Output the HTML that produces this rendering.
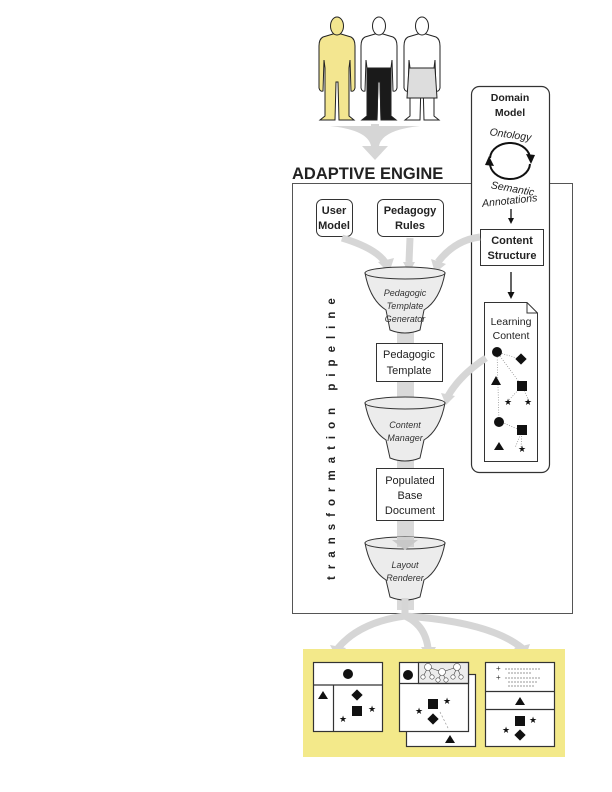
<!DOCTYPE html>
<html><head><meta charset="utf-8"><style>
html,body{margin:0;padding:0;background:#fff}
svg{display:block}
text{font-family:"Liberation Sans",sans-serif}
</style></head><body>
<svg width="612" height="792" viewBox="0 0 612 792" xmlns="http://www.w3.org/2000/svg">
<defs>
<g id="person">
  <path d="M-4,34 L-14,37 Q-18,39 -18,46 L-18,88 Q-17,92 -14,91 L-13,60 L-12,68 L-12,116 L-17,120 L-2,120 L-1,82 L1,82 L2,120 L17,120 L12,116 L12,68 L13,60 L14,91 Q17,92 18,88 L18,46 Q18,39 14,37 L4,34 Z" stroke="#222" stroke-width="1"/>
  <ellipse cx="0" cy="26" rx="6.5" ry="9" stroke="#222" stroke-width="1"/>
</g>
</defs>

<use href="#person" x="337" y="0" fill="#f3e690"/>
<g>
  <use href="#person" x="379" y="0" fill="#fff"/>
  <path d="M367,68 L391,68 L391,116 L396,120 L381,120 L380,82 L378,82 L377,120 L362,120 L367,116 Z" fill="#1a1a1a" stroke="#222"/>
</g>
<g>
  <use href="#person" x="422" y="0" fill="#fff"/>
  <path d="M409,68 L435,68 L437,98 L407,98 Z" fill="#ddd" stroke="#222"/>
</g>

<!-- top gray arrow -->
<path d="M330,126 Q368,130 371,146 L362,146 L375,160 L388,146 L379,146 Q382,130 420,126 L379,126 L379,124 L371,124 L371,126 Z" fill="#d6d6d6"/>

<text x="292" y="179" font-size="16.5" font-weight="bold" fill="#222">ADAPTIVE ENGINE</text>

<rect x="292.5" y="183.5" width="280" height="430" fill="none" stroke="#555" stroke-width="1"/>

<rect x="397" y="280" width="17" height="330" fill="#d9d9d9"/>

<!-- domain model box -->
<rect x="471.5" y="86.5" width="78" height="386" rx="8" fill="#fff" stroke="#333" stroke-width="1.2"/>
<text x="510" y="101" font-size="10.5" font-weight="bold" text-anchor="middle" fill="#222">Domain</text>
<text x="510" y="116" font-size="10.5" font-weight="bold" text-anchor="middle" fill="#222">Model</text>
<text x="510" y="138" font-size="10.5" font-style="italic" text-anchor="middle" fill="#222" transform="rotate(8 510 138)">Ontology</text>
<path d="M490,158 A20,16 0 0 1 530,160" fill="none" stroke="#111" stroke-width="2"/>
<path d="M526,154 L531,164 L535,155 Z" fill="#111"/>
<path d="M530,164 A20,16 0 0 1 490,162" fill="none" stroke="#111" stroke-width="2"/>
<path d="M494,166 L489,156 L485,165 Z" fill="#111"/>
<text x="512" y="192" font-size="10.5" font-style="italic" text-anchor="middle" fill="#222" transform="rotate(10 512 192)">Semantic</text>
<text x="510" y="204" font-size="10.5" font-style="italic" text-anchor="middle" fill="#222" transform="rotate(-6 510 204)">Annotations</text>
<line x1="511" y1="209" x2="511" y2="219" stroke="#111" stroke-width="1.3"/>
<path d="M508,218 L511,224 L514,218 Z" fill="#111"/>
<rect x="480.5" y="229.5" width="63" height="36" fill="#fff" stroke="#333"/>
<text x="512" y="244" font-size="11" font-weight="bold" text-anchor="middle" fill="#222">Content</text>
<text x="512" y="259" font-size="11" font-weight="bold" text-anchor="middle" fill="#222">Structure</text>
<line x1="511" y1="272" x2="511" y2="293" stroke="#111" stroke-width="1.3"/>
<path d="M507.5,292 L511,299 L514.5,292 Z" fill="#111"/>
<path d="M484.5,302.5 L527,302.5 L537.5,313 L537.5,461.5 L484.5,461.5 Z" fill="#fff" stroke="#333"/>
<path d="M527,302.5 L527,313 L537.5,313" fill="none" stroke="#333"/>
<text x="511" y="325" font-size="10.5" text-anchor="middle" fill="#222">Learning</text>
<text x="511" y="339" font-size="10.5" text-anchor="middle" fill="#222">Content</text>
<g stroke="#888" stroke-width="0.7" stroke-dasharray="1,1.5" fill="none">
<path d="M497,352 L523,360 M497,352 L522,386 L508,401 M522,386 L529,401 M497,352 L499,421 L522,431 L515,448 M522,431 L521,448"/>
</g>
<g fill="#111">
<circle cx="497" cy="352" r="5"/>
<rect x="517" y="355" width="8" height="8" transform="rotate(45 521 359)"/>
<path d="M491,385 L496,376 L501,385 Z"/>
<rect x="517" y="381" width="10" height="10"/>
<text x="508" y="405" font-size="9" text-anchor="middle">★</text>
<text x="528" y="405" font-size="9" text-anchor="middle">★</text>
<circle cx="499" cy="422" r="5"/>
<rect x="517" y="425" width="10" height="10"/>
<path d="M494,450 L499,442 L504,450 Z"/>
<text x="522" y="452" font-size="9" text-anchor="middle">★</text>
</g>

<rect x="316.5" y="199.5" width="36" height="37" rx="6" fill="#fff" stroke="#333"/>
<text x="334" y="214" font-size="11" font-weight="bold" text-anchor="middle" fill="#222">User</text>
<text x="334" y="229" font-size="11" font-weight="bold" text-anchor="middle" fill="#222">Model</text>
<rect x="377.5" y="199.5" width="66" height="37" rx="6" fill="#fff" stroke="#333"/>
<text x="410" y="214" font-size="11" font-weight="bold" text-anchor="middle" fill="#222">Pedagogy</text>
<text x="410" y="229" font-size="11" font-weight="bold" text-anchor="middle" fill="#222">Rules</text>

<g fill="none" stroke="#d6d6d6" stroke-width="7">
<path d="M342,238 Q375,248 385,262"/>
<path d="M410,238 L409,262"/>
<path d="M480,237 Q455,240 438,262"/>
<path d="M486,358 Q460,375 448,396"/>
</g>
<g fill="#d6d6d6">
<path d="M378,262 L389,273 L394,258 Z"/>
<path d="M403,262 L409,273 L415,262 Z"/>
<path d="M431,259 L435,273 L446,264 Z"/>
<path d="M441,393 L446,405 L455,396 Z"/>
</g>

<g stroke="#333" stroke-width="1" fill="#ececec">
<path d="M365,273 Q370,300 386,310 L390,330 Q405,336 420,330 L424,310 Q440,300 445,273 Z"/>
<ellipse cx="405" cy="273" rx="40" ry="6"/>
<path d="M365,403 Q370,430 386,440 L390,458 Q405,464 420,458 L424,440 Q440,430 445,403 Z"/>
<ellipse cx="405" cy="403" rx="40" ry="6"/>
<path d="M365,543 Q370,570 386,580 L390,597 Q405,603 420,597 L424,580 Q440,570 445,543 Z"/>
<ellipse cx="405" cy="543" rx="40" ry="6"/>
</g>
<rect x="397" y="537" width="17" height="10" fill="#d0d0d0"/>
<path d="M392,540 L405,550 L418,540 Z" fill="#c8c8c8"/>
<g font-size="9" font-style="italic" text-anchor="middle" fill="#333">
<text x="405" y="296">Pedagogic</text>
<text x="405" y="309">Template</text>
<text x="405" y="322">Generator</text>
<text x="405" y="428">Content</text>
<text x="405" y="441">Manager</text>
<text x="405" y="568">Layout</text>
<text x="405" y="581">Renderer</text>
</g>

<rect x="376.5" y="343.5" width="66" height="38" fill="#fff" stroke="#333"/>
<text x="409" y="358" font-size="11" text-anchor="middle" fill="#222">Pedagogic</text>
<text x="409" y="374" font-size="11" text-anchor="middle" fill="#222">Template</text>
<rect x="376.5" y="468.5" width="67" height="52" fill="#fff" stroke="#333"/>
<text x="410" y="484" font-size="11" text-anchor="middle" fill="#222">Populated</text>
<text x="410" y="499" font-size="11" text-anchor="middle" fill="#222">Base</text>
<text x="410" y="514" font-size="11" text-anchor="middle" fill="#222">Document</text>

<text x="0" y="0" font-size="11.5" font-weight="bold" fill="#222" letter-spacing="7" transform="translate(335,580) rotate(-90)">transformation  pipeline</text>

<g fill="none" stroke="#d6d6d6" stroke-width="7">
<path d="M405,598 L405,616 Q360,622 338,648"/>
<path d="M405,616 Q425,625 428,648"/>
<path d="M405,616 Q490,622 522,648"/>
</g>
<g fill="#d6d6d6">
<path d="M330,645 L337,658 L346,648 Z"/>
<path d="M421,647 L429,659 L436,647 Z"/>
<path d="M514,648 L525,658 L530,644 Z"/>
</g>

<rect x="303" y="649" width="262" height="108" fill="#f3e98a"/>
<g stroke="#333" stroke-width="1.2" fill="#fff">
<rect x="313.5" y="662.5" width="69" height="69"/>
<line x1="313.5" y1="685" x2="382.5" y2="685"/>
<line x1="333.5" y1="685" x2="333.5" y2="731"/>
</g>
<g fill="#111">
<circle cx="348" cy="674" r="5"/>
<path d="M318,699 L323,691 L328,699 Z"/>
<rect x="353" y="691" width="8" height="8" transform="rotate(45 357 695)"/>
<rect x="352" y="706" width="10" height="10"/>
<text x="372" y="712" font-size="9" text-anchor="middle">★</text>
<text x="343" y="722" font-size="9" text-anchor="middle">★</text>
</g>
<g stroke="#333" stroke-width="1.2" fill="#fff">
<rect x="406.5" y="674.5" width="69" height="72"/>
<rect x="399.5" y="662.5" width="69" height="69"/>
<rect x="418.5" y="662.5" width="50" height="21" fill="#ececec"/>
<line x1="399.5" y1="683.5" x2="468.5" y2="683.5"/>
</g>
<g stroke="#444" stroke-width="0.6" fill="#fff">
<path d="M428,667 L442,672 L457,667 M428,667 L423,677 M428,667 L432,677 M442,672 L438,680 M442,672 L446,680 M457,667 L453,677 M457,667 L461,677" fill="none"/>
<circle cx="428" cy="667" r="3.5"/><circle cx="442" cy="672" r="3.5"/><circle cx="457" cy="667" r="3.5"/>
<circle cx="423" cy="677" r="2.2"/><circle cx="432" cy="677" r="2.2"/><circle cx="438" cy="680" r="2.2"/><circle cx="446" cy="680" r="2.2"/><circle cx="453" cy="677" r="2.2"/><circle cx="461" cy="677" r="2.2"/>
</g>
<line x1="440" y1="712" x2="449" y2="730" stroke="#999" stroke-width="0.7" stroke-dasharray="2,2"/>
<g fill="#111">
<circle cx="408" cy="675" r="5"/>
<rect x="428" y="699" width="10" height="10"/>
<text x="447" y="704" font-size="9" text-anchor="middle">★</text>
<text x="419" y="714" font-size="9" text-anchor="middle">★</text>
<rect x="429" y="715" width="8" height="8" transform="rotate(45 433 719)"/>
<path d="M445,743 L450,735 L455,743 Z"/>
</g>
<g stroke="#333" stroke-width="1.2" fill="#fff">
<rect x="485.5" y="662.5" width="69" height="84"/>
<line x1="485.5" y1="691.5" x2="554.5" y2="691.5"/>
<line x1="485.5" y1="709.5" x2="554.5" y2="709.5"/>
</g>
<g fill="#333" font-size="8">
<text x="496" y="671">+</text><text x="496" y="680">+</text>
</g>
<g stroke="#333" stroke-width="0.6" stroke-dasharray="2,1">
<line x1="505" y1="669" x2="541" y2="669"/>
<line x1="508" y1="673" x2="532" y2="673"/>
<line x1="505" y1="678" x2="541" y2="678"/>
<line x1="508" y1="682" x2="538" y2="682"/>
<line x1="508" y1="686" x2="534" y2="686"/>
</g>
<g fill="#111">
<path d="M515,705 L520,697 L525,705 Z"/>
<rect x="515" y="716" width="10" height="10"/>
<text x="533" y="723" font-size="9" text-anchor="middle">★</text>
<text x="506" y="733" font-size="9" text-anchor="middle">★</text>
<rect x="516" y="731" width="8" height="8" transform="rotate(45 520 735)"/>
</g>
</svg>
</body></html>
